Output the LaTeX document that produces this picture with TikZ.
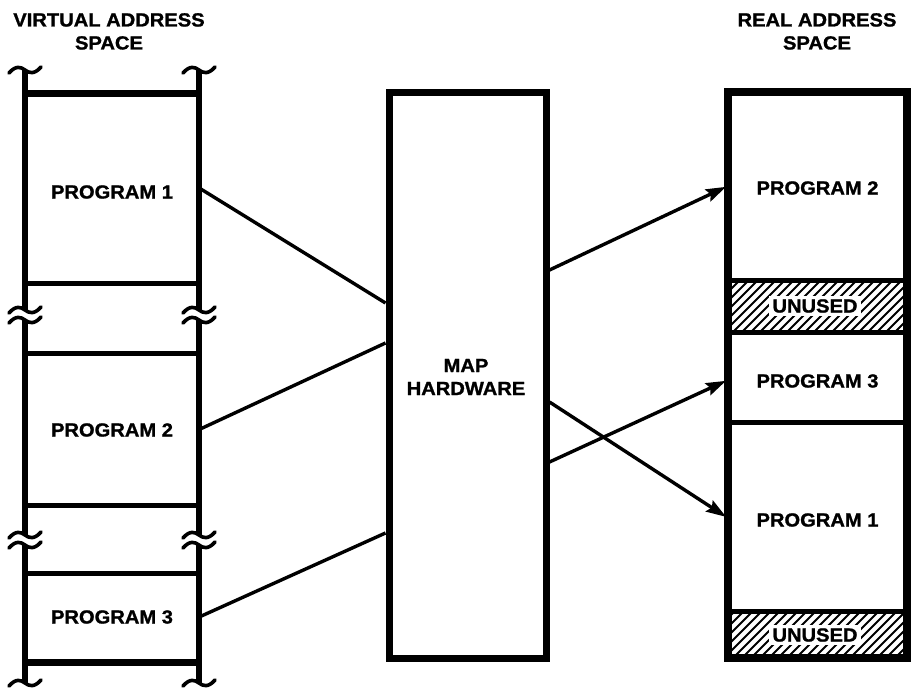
\documentclass[tikz,border=0pt]{standalone}
\usepackage{fontspec}
\newfontfamily\lblfont{Liberation Sans}[FakeStretch=1.06,FakeBold=1.2]
\usetikzlibrary{arrows.meta}
\begin{document}
\begin{tikzpicture}[x=1pt,y=-1pt,
  lbl/.style={font=\lblfont\bfseries\fontsize{19}{23}\selectfont, align=center, inner sep=0pt},
  rail/.style={line width=6.5pt},
  divider/.style={line width=5pt},
  endbar/.style={line width=7pt},
  hatchline/.style={line width=1.8pt},
  link/.style={line width=3.4pt},
  maparrow/.style={link, -{Stealth[length=20pt,width=13pt,inset=3pt]}, shorten >=2pt},
  area/.style={minimum width=174pt, inner sep=0pt},
  brk/.pic={\draw[line width=3.6pt, line cap=round]
     (-16,3) .. controls (-9,-5) and (-4,-3) .. (0,0)
     .. controls (4,3) and (9,5) .. (16,-3);}
]
\useasboundingbox (0,0) rectangle (916,696);

% ---------------- virtual address space ----------------
\node[lbl, anchor=north] (vhead) at (109,13) {VIRTUAL ADDRESS\\SPACE};

\foreach \x in {25,199} {
  \draw[rail] (\x,70) -- (\x,310);
  \draw[rail] (\x,320) -- (\x,535);
  \draw[rail] (\x,545) -- (\x,683);
  \pic at (\x,70) {brk};
  \pic at (\x,310) {brk};
  \pic at (\x,320) {brk};
  \pic at (\x,535) {brk};
  \pic at (\x,545) {brk};
  \pic at (\x,683) {brk};
}
\draw[endbar] (25,93) -- (199,93);
\draw[divider] (25,283) -- (199,283);
\draw[divider] (25,353) -- (199,353);
\draw[divider] (25,505) -- (199,505);
\draw[divider] (25,573) -- (199,573);
\draw[endbar] (25,662) -- (199,662);

\node[area, minimum height=190pt] (vp1) at (112,188) {};
\node[lbl] at (112,192) {PROGRAM 1};
\node[area, minimum height=152pt] (vp2) at (112,429.5) {};
\node[lbl] at (112,430) {PROGRAM 2};
\node[area, minimum height=89pt] (vp3) at (112,617) {};
\node[lbl] at (112,617) {PROGRAM 3};

% ---------------- map hardware ----------------
\node[draw, line width=7pt, minimum width=157pt, minimum height=566pt, inner sep=0pt]
  (map) at (467.5,375) {};
\node[lbl] (maplbl) at (466,377) {MAP\\HARDWARE};

% ---------------- real address space ----------------
\node[lbl, anchor=north] (rhead) at (817,13) {REAL ADDRESS\\SPACE};

\node[area, minimum width=179pt, minimum height=188pt] (rp2) at (817.5,186) {};
\node[area, minimum width=179pt, minimum height=90pt] (rp3) at (817.5,377) {};
\node[area, minimum width=179pt, minimum height=189pt] (rp1) at (817.5,516.5) {};
\node[lbl] at (817.5,188) {PROGRAM 2};
\node[lbl] at (817.5,381) {PROGRAM 3};
\node[lbl] at (817.5,520) {PROGRAM 1};

% hatched unused regions
\begin{scope}
  \clip (728,280) rectangle (907,332);
  \foreach \i in {0,...,27} \draw[hatchline] (670+\i*9,332) -- ++(56,-56);
\end{scope}
\begin{scope}
  \clip (728,611) rectangle (907,658);
  \foreach \i in {0,...,27} \draw[hatchline] (670+\i*9,658) -- ++(56,-56);
\end{scope}
\node[lbl, fill=white, inner sep=3pt] (u1) at (815,306) {UNUSED};
\node[lbl, fill=white, inner sep=3pt] (u2) at (815,635) {UNUSED};

\draw[line width=7.5pt] (728,92) rectangle (907,658);
\foreach \y in {280,332,422,611} \draw[divider] (728,\y) -- (907,\y);

% ---------------- mappings ----------------
\draw[link] (vp1.east) -- ([yshift=72pt]map.west);
\draw[link] (vp2.east) -- ([yshift=32pt]map.west);
\draw[link] (vp3.east) -- ([yshift=-158pt]map.west);

\draw[maparrow] ([yshift=105pt]map.east) -- (rp2.west);
\draw[maparrow] ([yshift=-87pt]map.east) -- ([yshift=-3pt]rp3.west);
\draw[maparrow] ([yshift=-27pt]map.east) -- ([yshift=-1.5pt]rp1.west);
\end{tikzpicture}
\end{document}
